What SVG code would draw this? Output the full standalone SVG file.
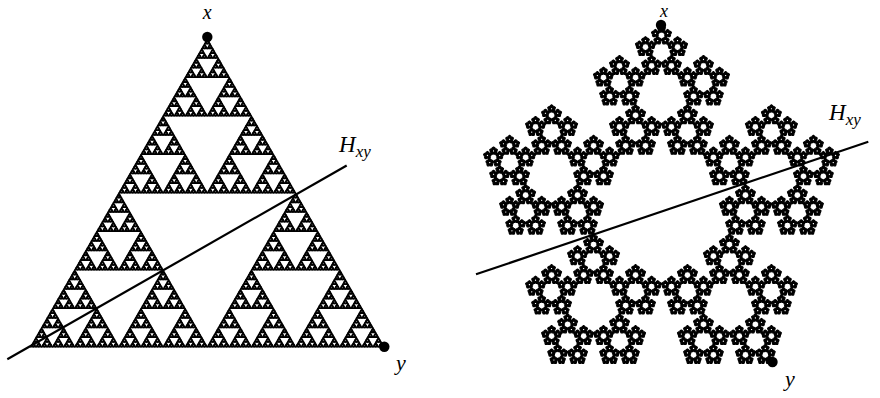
<svg xmlns="http://www.w3.org/2000/svg" xmlns:xlink="http://www.w3.org/1999/xlink" width="880" height="398" viewBox="0 0 880 398">
<style>
.lbl{font-family:"Liberation Serif","DejaVu Serif",serif;font-style:italic;fill:#000}
.ln{stroke:#000;stroke-width:2.2;fill:none;stroke-linecap:butt}
.dot{fill:#000}
</style>
<defs>
<polygon id="t0" points="30.5,347 384,347 207.3,39" fill="#000" stroke="#000" stroke-width="150" stroke-linejoin="round"/>
<g id="t1"><use xlink:href="#t0" transform="translate(15.25,173.5) scale(0.5)"/><use xlink:href="#t0" transform="translate(192,173.5) scale(0.5)"/><use xlink:href="#t0" transform="translate(103.65,19.5) scale(0.5)"/></g>
<g id="t2"><use xlink:href="#t1" transform="translate(15.25,173.5) scale(0.5)"/><use xlink:href="#t1" transform="translate(192,173.5) scale(0.5)"/><use xlink:href="#t1" transform="translate(103.65,19.5) scale(0.5)"/></g>
<g id="t3"><use xlink:href="#t2" transform="translate(15.25,173.5) scale(0.5)"/><use xlink:href="#t2" transform="translate(192,173.5) scale(0.5)"/><use xlink:href="#t2" transform="translate(103.65,19.5) scale(0.5)"/></g>
<g id="t4"><use xlink:href="#t3" transform="translate(15.25,173.5) scale(0.5)"/><use xlink:href="#t3" transform="translate(192,173.5) scale(0.5)"/><use xlink:href="#t3" transform="translate(103.65,19.5) scale(0.5)"/></g>
<g id="t5"><use xlink:href="#t4" transform="translate(15.25,173.5) scale(0.5)"/><use xlink:href="#t4" transform="translate(192,173.5) scale(0.5)"/><use xlink:href="#t4" transform="translate(103.65,19.5) scale(0.5)"/></g>
<g id="t6"><use xlink:href="#t5" transform="translate(15.25,173.5) scale(0.5)"/><use xlink:href="#t5" transform="translate(192,173.5) scale(0.5)"/><use xlink:href="#t5" transform="translate(103.65,19.5) scale(0.5)"/></g>
<g id="t7"><use xlink:href="#t6" transform="translate(15.25,173.5) scale(0.5)"/><use xlink:href="#t6" transform="translate(192,173.5) scale(0.5)"/><use xlink:href="#t6" transform="translate(103.65,19.5) scale(0.5)"/></g>

<polygon id="p0" points="661.5,25 839.35,154.21 771.42,363.29 551.58,363.29 483.65,154.21" fill="#000" stroke="#000" stroke-width="150" stroke-linejoin="round"/>
<g id="p1"><use xlink:href="#p0" transform="translate(408.829,15.451) scale(0.381966)"/><use xlink:href="#p0" transform="translate(518.747,95.307) scale(0.381966)"/><use xlink:href="#p0" transform="translate(476.764,224.526) scale(0.381966)"/><use xlink:href="#p0" transform="translate(340.895,224.526) scale(0.381966)"/><use xlink:href="#p0" transform="translate(298.912,95.307) scale(0.381966)"/></g>
<g id="p2"><use xlink:href="#p1" transform="translate(408.829,15.451) scale(0.381966)"/><use xlink:href="#p1" transform="translate(518.747,95.307) scale(0.381966)"/><use xlink:href="#p1" transform="translate(476.764,224.526) scale(0.381966)"/><use xlink:href="#p1" transform="translate(340.895,224.526) scale(0.381966)"/><use xlink:href="#p1" transform="translate(298.912,95.307) scale(0.381966)"/></g>
<g id="p3"><use xlink:href="#p2" transform="translate(408.829,15.451) scale(0.381966)"/><use xlink:href="#p2" transform="translate(518.747,95.307) scale(0.381966)"/><use xlink:href="#p2" transform="translate(476.764,224.526) scale(0.381966)"/><use xlink:href="#p2" transform="translate(340.895,224.526) scale(0.381966)"/><use xlink:href="#p2" transform="translate(298.912,95.307) scale(0.381966)"/></g>
<g id="p4"><use xlink:href="#p3" transform="translate(408.829,15.451) scale(0.381966)"/><use xlink:href="#p3" transform="translate(518.747,95.307) scale(0.381966)"/><use xlink:href="#p3" transform="translate(476.764,224.526) scale(0.381966)"/><use xlink:href="#p3" transform="translate(340.895,224.526) scale(0.381966)"/><use xlink:href="#p3" transform="translate(298.912,95.307) scale(0.381966)"/></g>
<g id="p5"><use xlink:href="#p4" transform="translate(408.829,15.451) scale(0.381966)"/><use xlink:href="#p4" transform="translate(518.747,95.307) scale(0.381966)"/><use xlink:href="#p4" transform="translate(476.764,224.526) scale(0.381966)"/><use xlink:href="#p4" transform="translate(340.895,224.526) scale(0.381966)"/><use xlink:href="#p4" transform="translate(298.912,95.307) scale(0.381966)"/></g>
</defs>
<rect width="880" height="398" fill="#fff"/>

<g id="sierpinski-triangle">
<use xlink:href="#t7"/>
</g>
<g id="sierpinski-pentagon">
<use xlink:href="#p5"/>
</g>

<g id="connectors">
<line class="ln" x1="7.3" y1="359.3" x2="346.7" y2="165.5"/>
<line class="ln" x1="476" y1="274.3" x2="868.3" y2="141.7"/>
</g>

<g id="tri-x"><circle class="dot" cx="207.3" cy="37" r="5.2"/><text class="lbl" x="207.3" y="19" font-size="20" text-anchor="middle">x</text></g>
<g id="tri-y"><circle class="dot" cx="384.3" cy="346.8" r="5.2"/><text class="lbl" x="401" y="370" font-size="22" text-anchor="middle">y</text></g>
<g id="tri-H"><text class="lbl" x="339" y="152" font-size="23">H<tspan font-size="17" dy="5">xy</tspan></text></g>

<g id="pent-x"><circle class="dot" cx="661" cy="25" r="5.2"/><text class="lbl" x="664" y="16.5" font-size="18" text-anchor="middle">x</text></g>
<g id="pent-y"><circle class="dot" cx="772.5" cy="362" r="5.2"/><text class="lbl" x="790" y="386" font-size="22" text-anchor="middle">y</text></g>
<g id="pent-H"><text class="lbl" x="829" y="120" font-size="23">H<tspan font-size="17" dy="5">xy</tspan></text></g>
</svg>
